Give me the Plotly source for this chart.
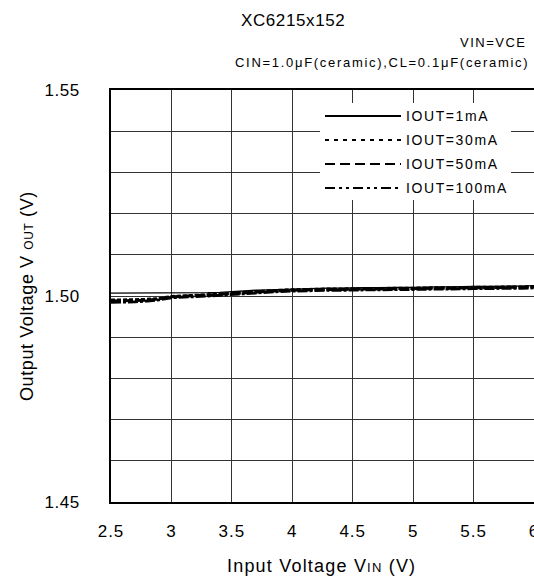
import plotly.graph_objects as go

# ---- data ----
vin = [2.5, 2.6, 2.7, 2.8, 2.9, 3.0, 3.1, 3.2, 3.3, 3.4, 3.5, 3.6, 3.7, 3.8, 3.9, 4.0, 4.1, 4.2,
       4.3, 4.4, 4.5, 4.6, 4.7, 4.8, 4.9, 5.0, 5.1, 5.2, 5.3, 5.4, 5.5, 5.6, 5.7, 5.8, 5.9, 6.0]
vout_1mA = [1.5007, 1.5007, 1.5007, 1.5007, 1.5007, 1.5007, 1.5007, 1.5007, 1.5008, 1.5009, 1.5011, 1.5012,
            1.5014, 1.5015, 1.5016, 1.5017, 1.5018, 1.5018, 1.5019, 1.5019, 1.5020, 1.5020, 1.5020, 1.5021,
            1.5021, 1.5021, 1.5022, 1.5022, 1.5022, 1.5023, 1.5023, 1.5023, 1.5024, 1.5024, 1.5024, 1.5025]
vout_30mA = [1.4990, 1.4990, 1.4991, 1.4992, 1.4994, 1.4999, 1.5000, 1.5001, 1.5003, 1.5005, 1.5007, 1.5009,
             1.5011, 1.5012, 1.5014, 1.5015, 1.5016, 1.5016, 1.5017, 1.5017, 1.5018, 1.5018, 1.5018, 1.5019,
             1.5019, 1.5019, 1.5020, 1.5020, 1.5020, 1.5021, 1.5021, 1.5021, 1.5022, 1.5022, 1.5022, 1.5023]
vout_50mA = [1.4988, 1.4988, 1.4989, 1.4990, 1.4993, 1.4998, 1.4999, 1.5000, 1.5002, 1.5004, 1.5006, 1.5008,
             1.5010, 1.5011, 1.5013, 1.5014, 1.5015, 1.5015, 1.5016, 1.5016, 1.5017, 1.5017, 1.5017, 1.5018,
             1.5018, 1.5018, 1.5019, 1.5019, 1.5019, 1.5020, 1.5020, 1.5020, 1.5021, 1.5021, 1.5021, 1.5022]
vout_100mA = [1.4985, 1.4985, 1.4986, 1.4988, 1.4991, 1.4996, 1.4997, 1.4998, 1.5000, 1.5002, 1.5004, 1.5006,
              1.5008, 1.5009, 1.5011, 1.5012, 1.5013, 1.5013, 1.5014, 1.5014, 1.5015, 1.5015, 1.5015, 1.5016,
              1.5016, 1.5016, 1.5017, 1.5017, 1.5017, 1.5018, 1.5018, 1.5018, 1.5019, 1.5019, 1.5019, 1.5020]

series_names = ["IOUT=1mA", "IOUT=30mA", "IOUT=50mA", "IOUT=100mA"]
series_values = [vout_1mA, vout_30mA, vout_50mA, vout_100mA]
series_dash = ["solid", "4px,5px", "10px,5px", "10px,4px,3px,4px,3px,4px"]
plot_dash = ["solid", "4px,2px", "10px,2px", "10px,2px,3px,2px"]
series_width = [1.3, 3, 3, 3]

x_ticks = [2.5, 3, 3.5, 4, 4.5, 5, 5.5, 6]
x_ticktext = ["2.5", "3", "3.5", "4", "4.5", "5", "5.5", "6"]
y_ticks = [1.45, 1.50, 1.55]
y_ticktext = ["1.45", "1.50", "1.55"]

FONT = "Liberation Sans, Arial, sans-serif"
W, H = 534, 580
L, R, T, B = 111, 0, 90, 78
PW, PH = W - L - R, H - T - B


def px(xp):
    return (xp - L) / PW


def py(yp):
    return (H - B - yp) / PH


def ls(text, sp):
    return f"<span style='letter-spacing:{sp}px'>{text}</span>"


fig = go.Figure()
for name, vals, dash, wd in zip(series_names, series_values, plot_dash, series_width):
    fig.add_trace(go.Scatter(x=vin, y=vals, mode="lines", name=name,
                             line=dict(color="black", width=wd, dash=dash),
                             showlegend=False))

# custom legend (white box, long samples)
shapes = [dict(type="rect", xref="paper", yref="paper", x0=px(320), x1=px(511),
               y0=py(200), y1=py(103), fillcolor="white", line=dict(width=0), layer="above")]
annotations = []
rows_y = [116, 140, 164, 188]
for name, dash, ry in zip(series_names, series_dash, rows_y):
    shapes.append(dict(type="line", xref="paper", yref="paper", x0=px(325), x1=px(401),
                       y0=py(ry), y1=py(ry), line=dict(color="black", width=2, dash=dash),
                       layer="above"))
    annotations.append(dict(xref="paper", yref="paper", x=px(404), y=py(ry), xanchor="left",
                            yanchor="middle", showarrow=False, text=ls(name, 1.6),
                            font=dict(family=FONT, size=14, color="black")))

annotations += [
    dict(xref="paper", yref="paper", x=px(293), y=py(20), xanchor="center", yanchor="middle",
         showarrow=False, text=ls("XC6215x152", 0.6), font=dict(family=FONT, size=17, color="black")),
    dict(xref="paper", yref="paper", x=px(529), y=py(42), xanchor="right", yanchor="middle",
         showarrow=False, text=ls("VIN=VCE", 1.5), font=dict(family=FONT, size=13, color="black")),
    dict(xref="paper", yref="paper", x=px(531), y=py(63), xanchor="right", yanchor="middle",
         showarrow=False, text=ls("CIN=1.0μF(ceramic),CL=0.1μF(ceramic)", 1.7),
         font=dict(family=FONT, size=13, color="black")),
    dict(xref="paper", yref="paper", x=px(321), y=py(566), xanchor="center", yanchor="middle",
         showarrow=False,
         text=ls("Input Voltage V<span style='font-size:13px'>IN</span> (V)", 1.2),
         font=dict(family=FONT, size=18, color="black")),
    dict(xref="paper", yref="paper", x=px(27), y=py(296), xanchor="center", yanchor="middle",
         showarrow=False, textangle=-90,
         text=ls("Output Voltage V <span style='font-size:12px'>OUT</span> (V)", 0.6),
         font=dict(family=FONT, size=18, color="black")),
]

fig.update_layout(
    width=W, height=H,
    margin=dict(l=L, r=R, t=T, b=B, pad=0, autoexpand=False),
    paper_bgcolor="white", plot_bgcolor="white",
    font=dict(family=FONT, size=17, color="black"),
    shapes=shapes, annotations=annotations,
    showlegend=False,
)
fig.update_xaxes(range=[2.5, 6], tickvals=x_ticks, ticktext=[ls(t, 1) for t in x_ticktext],
                 showgrid=True, gridcolor="#333", gridwidth=1, automargin=False,
                 showline=True, linecolor="black", linewidth=2, mirror=True,
                 ticks="", ticklabelstandoff=13, zeroline=False, ticklabeloverflow="allow",
                 tickfont=dict(family=FONT, size=17))
fig.update_yaxes(range=[1.45, 1.55], tickvals=y_ticks, ticktext=[ls(t, 0.5) for t in y_ticktext],
                 showgrid=True, gridcolor="#333", gridwidth=1, automargin=False,
                 minor=dict(dtick=0.01, tick0=1.45, showgrid=True, gridcolor="#333", gridwidth=1),
                 showline=True, linecolor="black", linewidth=2, mirror=True,
                 ticks="", ticklabelstandoff=26, zeroline=False,
                 tickfont=dict(family=FONT, size=17))

fig.write_html("out.html", config={"displayModeBar": False},
               post_script="document.documentElement.style.overflow='hidden';document.body.style.margin='0';document.body.style.padding='0';document.body.style.overflow='hidden';")
